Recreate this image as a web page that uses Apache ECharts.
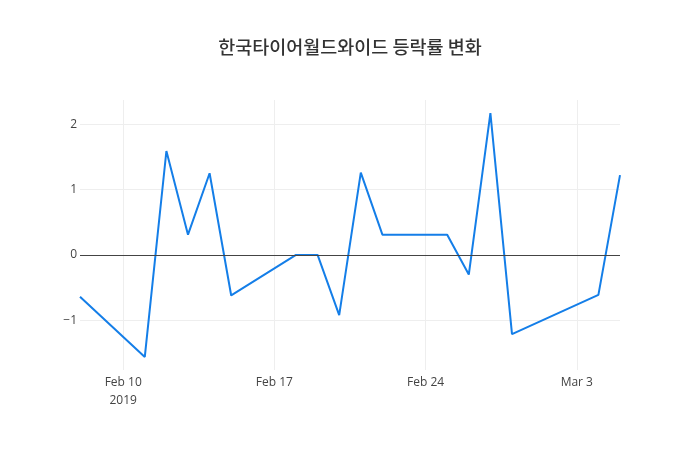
<!DOCTYPE html>
<html lang="ko" style="height: 100%">
<head>
    <meta charset="UTF-8">
    <title>한국타이어월드와이드 등락률 변화</title>
</head>
<body style="height: 100%; margin: 0">
<div id="container" style="width: 700px; height: 450px"></div>
<script src="https://cdn.jsdelivr.net/npm/echarts@6/dist/echarts.min.js"></script>
<script>
    // 거래일과 등락률(%)
    var dates = ['2019-02-08', '2019-02-11', '2019-02-12', '2019-02-13', '2019-02-14', '2019-02-15',
        '2019-02-18', '2019-02-19', '2019-02-20', '2019-02-21', '2019-02-22',
        '2019-02-25', '2019-02-26', '2019-02-27', '2019-02-28', '2019-03-04', '2019-03-05'];
    var changes = [-0.64, -1.56, 1.59, 0.31, 1.25, -0.62,
        0, 0, -0.92, 1.26, 0.31,
        0.31, -0.30, 2.17, -1.21, -0.61, 1.22];

    // x축 눈금 (일요일)
    var tickDates = ['2019-02-10', '2019-02-17', '2019-02-24', '2019-03-03'];
    var tickLabels = ['Feb 10\n2019', 'Feb 17', 'Feb 24', 'Mar 3'];

    // 달력상의 모든 날짜를 카테고리로 (주말도 자리 차지)
    var days = [];
    var d = new Date(dates[0] + 'T00:00:00Z');
    var end = new Date(dates[dates.length - 1] + 'T00:00:00Z');
    while (d <= end) {
        days.push(d.toISOString().slice(0, 10));
        d = new Date(d.getTime() + 86400000);
    }

    var points = [];
    for (var i = 0; i < dates.length; i++) {
        points.push([dates[i], changes[i]]);
    }

    function isTick(index, value) {
        return tickDates.indexOf(value) >= 0;
    }

    var font = '"Open Sans", "Noto Sans CJK KR", sans-serif';
    var chart = echarts.init(document.getElementById('container'));

    var option = {
        animation: false,
        backgroundColor: '#fff',
        title: {
            text: '한국타이어월드와이드 등락률 변화',
            left: 'center',
            top: 33,
            textStyle: {
                color: '#333',
                fontSize: 18.5,
                fontWeight: 500,
                fontFamily: '"Noto Sans CJK KR", sans-serif'
            }
        },
        grid: {
            left: 80,
            right: 80,
            top: 100,
            bottom: 80
        },
        xAxis: {
            type: 'category',
            data: days,
            boundaryGap: false,
            axisLine: {show: false},
            axisTick: {show: false},
            axisLabel: {
                interval: isTick,
                margin: 4,
                color: '#444',
                fontSize: 12,
                lineHeight: 18,
                fontFamily: font,
                formatter: function (v) {
                    var k = tickDates.indexOf(v);
                    return k >= 0 ? tickLabels[k] : '';
                }
            },
            splitLine: {
                show: true,
                interval: isTick,
                lineStyle: {color: '#eee', width: 1}
            }
        },
        yAxis: {
            type: 'value',
            min: -1.76,
            max: 2.37,
            splitNumber: 5,
            axisLine: {show: false},
            axisTick: {show: false},
            axisLabel: {
                margin: 3,
                color: '#444',
                fontSize: 12,
                fontFamily: font,
                showMinLabel: false,
                showMaxLabel: false,
                formatter: function (v) {
                    return v < 0 ? '\u2212' + Math.abs(v) : String(v);
                }
            },
            splitLine: {
                show: true,
                showMinLine: false,
                showMaxLine: false,
                lineStyle: {color: '#eee', width: 1}
            }
        },
        series: [{
            type: 'line',
            data: points,
            showSymbol: false,
            symbol: 'none',
            lineStyle: {color: '#147ee8', width: 2},
            markLine: {
                silent: true,
                symbol: 'none',
                label: {show: false},
                lineStyle: {color: '#444', width: 1, type: 'solid'},
                data: [{yAxis: 0}]
            },
            z: 3
        }]
    };

    chart.setOption(option);
</script>
</body>
</html>
